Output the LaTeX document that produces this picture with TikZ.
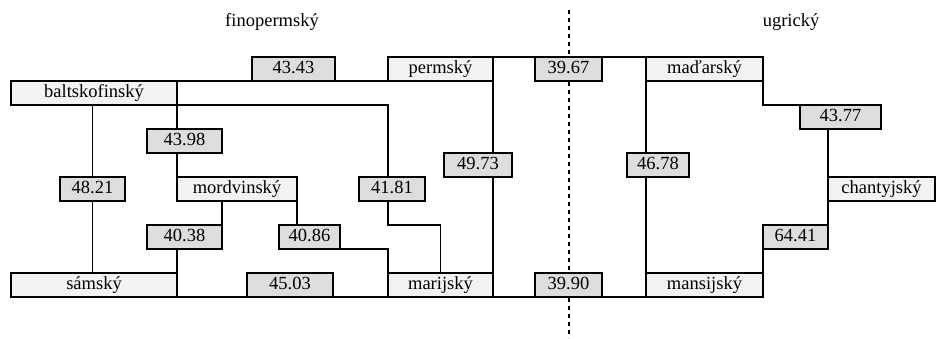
\documentclass[tikz,border=0pt]{standalone}
\usepackage{fontspec}
\setmainfont{Liberation Serif}
\newfontfamily\treefont{Liberation Serif}
\usepackage{xcolor}
\definecolor{leafgray}{HTML}{F2F2F2}
\definecolor{distgray}{HTML}{DDDDDD}

\begin{document}
\begin{tikzpicture}[x=1pt,y=-1pt,line width=1.1pt,
	every node/.style={font=\treefont\fontsize{18.5}{20}\selectfont},
	box/.style={draw,inner sep=0pt,outer sep=0pt,minimum height=24pt,text height=12.5pt,text depth=4pt},
	leaf/.style={box,fill=leafgray},
	dist/.style={box,fill=distgray}]
	\useasboundingbox (0,0) rectangle (936,338);
	% group labels and the dividing line
	\node (finoperm) at (272,22) {finopermský};
	\node (ugric) at (791,22) {ugrický};
	\coordinate (divtop) at (568.5,10);
	\coordinate (divbot) at (568.5,338);
	\draw[line width=2pt,dash pattern=on 4pt off 4pt] (divtop) -- (divbot);
	
	% languages
	\node[leaf,minimum width=166pt] (balt) at (94,93) {baltskofinský};
	\node[leaf,minimum width=166pt] (sam) at (94,285) {sámský};
	\node[leaf,minimum width=120pt] (mord) at (237,189) {mordvinský};
	\node[leaf,minimum width=105pt] (perm) at (440.5,69) {permský};
	\node[leaf,minimum width=105pt] (mari) at (440.5,285) {marijský};
	\node[leaf,minimum width=117pt] (madar) at (704.5,69) {maďarský};
	\node[leaf,minimum width=117pt] (mansi) at (704.5,285) {mansijský};
	\node[leaf,minimum width=107pt] (chanty) at (881.5,189) {chantyjský};
	
	% distances
	\node[dist,minimum width=83pt] (d4343) at (293.5,69) {43.43};
	\node[dist,minimum width=75pt] (d4398) at (184.5,141) {43.98};
	\node[dist,minimum width=65pt] (d4821) at (92.5,189) {48.21};
	\node[dist,minimum width=75pt] (d4038) at (184.5,237) {40.38};
	\node[dist,minimum width=61pt] (d4086) at (309.5,237) {40.86};
	\node[dist,minimum width=86pt] (d4503) at (290,285) {45.03};
	\node[dist,minimum width=66pt] (d4181) at (392,189) {41.81};
	\node[dist,minimum width=68pt] (d4973) at (478,165) {49.73};
	\node[dist,minimum width=67pt] (d3967) at (568.5,69) {39.67};
	\node[dist,minimum width=67pt] (d3990) at (568.5,285) {39.90};
	\node[dist,minimum width=62pt] (d4678) at (658,165) {46.78};
	\node[dist,minimum width=81pt] (d4377) at (840.5,117) {43.77};
	\node[dist,minimum width=65pt] (d6441) at (795.5,237) {64.41};
	
	% finopermic branches
	\draw (balt.north east) -- (perm.south west);
	\draw (balt.south east) -| (d4181.north -| mari.west);
	\draw (d4181.south -| mari.west) |- (d4086.north -| mari) -- (mari.north);
	\draw (balt.south east) -- (d4398.north -| balt.east);
	\draw (d4398.south -| mord.west) -- (mord.north west);
	\draw (balt.south -| d4821) -- (d4821.north);
	\draw (d4821.south) -- (sam.north -| d4821);
	\draw (mord.south -| d4038.east) -- (d4038.north east);
	\draw (d4038.south -| sam.east) -- (sam.south east) -- (mari.south west);
	\draw (mord.south east) -- (mord.south east |- d4086.north);
	\draw (d4086.south east) -| (mari.north west);
	\draw (perm.south east) -- (perm.south east |- d4973.north);
	\draw (perm.south east |- d4973.south) -- (mari.north east);
	
	% root and ugric branches
	\draw (perm.north east) -- (madar.north west);
	\draw (mari.south east) -- (mansi.south west);
	\draw (madar.south west) -- (madar.south west |- d4678.north);
	\draw (madar.south west |- d4678.south) -- (mansi.north west);
	\draw (madar.south east) |- (d4377.north west);
	\draw (d4377.south -| chanty.west) -- (chanty.north west);
	\draw (chanty.south west) -- (d6441.north east);
	\draw (d6441.south west) -- (mansi.north east);
\end{tikzpicture}
\end{document}
